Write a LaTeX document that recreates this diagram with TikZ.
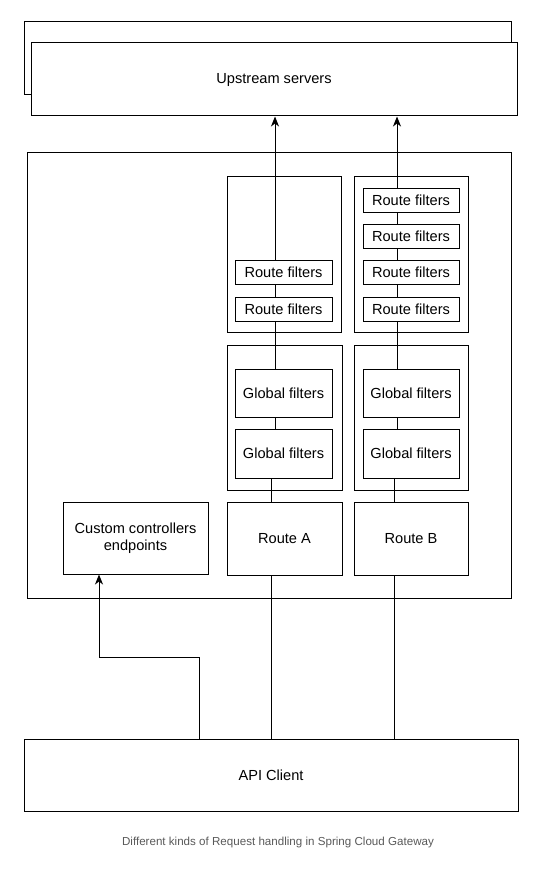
\documentclass[tikz,border=0pt]{standalone}
\usepackage{fontspec}
\setmainfont{Liberation Sans}
\usetikzlibrary{arrows.meta}
\tikzset{
	box/.style={draw, line width=1pt, fill=white, inner sep=0pt, align=center,
		font=\fontsize{14.6}{17}\selectfont},
	flow/.style={line width=1pt},
	>={Stealth[length=10pt,width=8pt,inset=3pt]}
}

\begin{document}
\begin{tikzpicture}[x=1pt,y=-1pt]
	\useasboundingbox (0,0) rectangle (548,872);
	% upstream servers
	\node[box, minimum width=487, minimum height=73] (upb) at (267.5,58.5) {};
	\node[box, minimum width=486, minimum height=73] (up) at (274,79.5) {Upstream servers};
	% gateway
	\node[box, minimum width=484, minimum height=446] (gw) at (269,375) {};
	\node[box, minimum width=114, minimum height=156] (rfa) at (284,254) {};
	\node[box, minimum width=114, minimum height=156] (rfb) at (411,254) {};
	\node[box, minimum width=115, minimum height=145] (gfa) at (284.5,417.5) {};
	\node[box, minimum width=114, minimum height=145] (gfb) at (411,417.5) {};
	\node[box, minimum width=97, minimum height=24] (rfa1) at (283.5,272) {Route filters};
	\node[box, minimum width=97, minimum height=24] (rfa2) at (283.5,309) {Route filters};
	\foreach \i/\y in {1/200,2/236,3/272,4/309}
		\node[box, minimum width=96, minimum height=24] (rfb\i) at (411,\y) {Route filters};
	\node[box, minimum width=97, minimum height=48] (gfa1) at (283.5,393) {Global filters};
	\node[box, minimum width=97, minimum height=49] (gfa2) at (283.5,453.5) {Global filters};
	\node[box, minimum width=96, minimum height=48] (gfb1) at (411,393) {Global filters};
	\node[box, minimum width=96, minimum height=49] (gfb2) at (411,453.5) {Global filters};
	\node[box, minimum width=115, minimum height=73] (ra) at (284.5,538.5) {Route A};
	\node[box, minimum width=114, minimum height=73] (rb) at (411,538.5) {Route B};
	\node[box, minimum width=145, minimum height=72] (cc) at (135.5,538) {Custom controllers\\endpoints};
	% client
	\node[box, minimum width=494, minimum height=72] (api) at (271,775) {API Client};
	\node[font=\fontsize{11.6}{14}\selectfont, text=black!65] (cap) at (278,842)
		{Different kinds of Request handling in Spring Cloud Gateway};
	% route A
	\coordinate (la) at (271,0);
	\coordinate (lb) at (275,0);
	\draw[flow] (api.north -| la) -- (ra.south -| la);
	\draw[flow] (ra.north -| la) -- (gfa2.south -| la);
	\draw[flow] (gfa2.north -| lb) -- (gfa1.south -| lb);
	\draw[flow] (gfa1.north -| lb) -- (rfa2.south -| lb);
	\draw[flow] (rfa2.north -| lb) -- (rfa1.south -| lb);
	\draw[flow,->] (rfa1.north -| lb) -- (up.south -| lb);
	% route B
	\coordinate (ra0) at (394,0);
	\coordinate (rb0) at (397,0);
	\draw[flow] (api.north -| ra0) -- (rb.south -| ra0);
	\draw[flow] (rb.north -| ra0) -- (gfb2.south -| ra0);
	\draw[flow] (gfb2.north -| rb0) -- (gfb1.south -| rb0);
	\draw[flow] (gfb1.north -| rb0) -- (rfb4.south -| rb0);
	\foreach \i/\j in {4/3,3/2,2/1}
		\draw[flow] (rfb\i.north -| rb0) -- (rfb\j.south -| rb0);
	\draw[flow,->] (rfb1.north -| rb0) -- (up.south -| rb0);
	% custom controllers
	\draw[flow,->] (api.north -| 199,0) |- (99,657) -- (cc.south -| 99,0);
\end{tikzpicture}
\end{document}
